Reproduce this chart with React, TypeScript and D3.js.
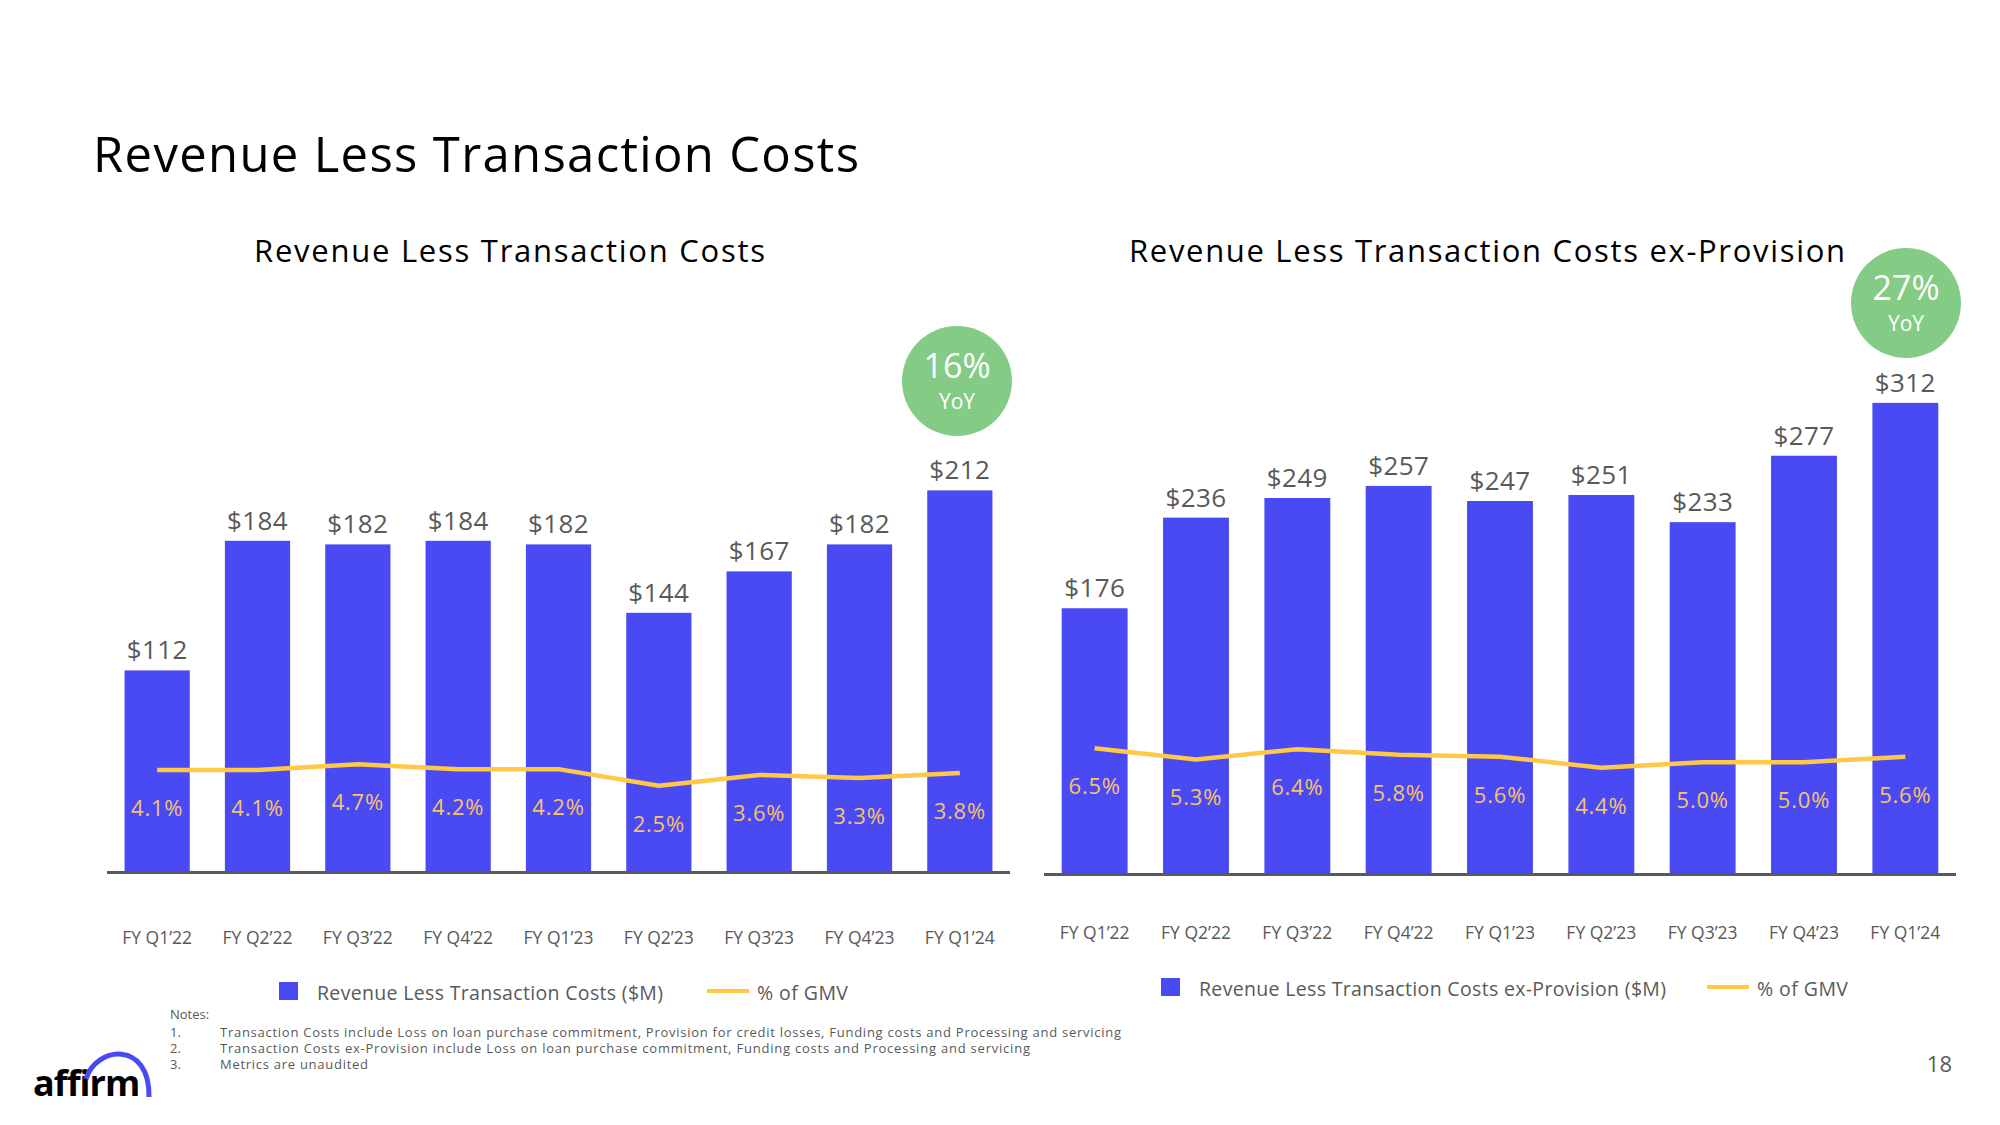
import React from "react";
import * as d3 from "d3";

const quarters = ["FY Q1’22", "FY Q2’22", "FY Q3’22", "FY Q4’22", "FY Q1’23", "FY Q2’23", "FY Q3’23", "FY Q4’23", "FY Q1’24"];
const rltcValues = [112, 184, 182, 184, 182, 144, 167, 182, 212];
const rltcPct = [4.1, 4.1, 4.7, 4.2, 4.2, 2.5, 3.6, 3.3, 3.8];
const exProvValues = [176, 236, 249, 257, 247, 251, 233, 277, 312];
const exProvPct = [6.5, 5.3, 6.4, 5.8, 5.6, 4.4, 5.0, 5.0, 5.6];
const notes = [
  "Transaction Costs include Loss on loan purchase commitment, Provision for credit losses, Funding costs and Processing and servicing",
  "Transaction Costs ex-Provision include Loss on loan purchase commitment, Funding costs and Processing and servicing",
  "Metrics are unaudited",
];
const noteWidths = [901, 810, 148];

const FONT = "'Open Sans', 'Noto Sans', sans-serif";
const BLUE = "#4A4AF4";
const GOLD = "#FFC845";
const PCT_TXT = "#F6C36A";
const GREEN = "#84CC86";
const GRAY = "#595959";

type PanelProps = {
  title: string;
  titleX: number;
  titleW: number;
  values: number[];
  pct: number[];
  xRange: [number, number];
  base: number;
  yMax: number;
  yTop: number;
  pZero: number;
  pTen: number;
  labelY: number;
  yoy: string;
  circle: [number, number];
  legendLabel: string;
  legendW: number;
  legendX: number;
  legendY: number;
  lineLegendX: number;
};

function Panel(p: PanelProps) {
  const x = d3.scaleBand<string>().domain(quarters).range(p.xRange).paddingInner(0.35).paddingOuter(0.175);
  const y = d3.scaleLinear().domain([0, p.yMax]).range([p.base, p.yTop]);
  const yp = d3.scaleLinear().domain([0, 10]).range([p.pZero, p.pTen]);
  const cx = (q: string) => (x(q) as number) + x.bandwidth() / 2;
  const line = d3
    .line<number>()
    .x((_, i) => cx(quarters[i]))
    .y((d) => yp(d));
  return (
    <g>
      <text x={p.titleX - p.titleW / 2} y={262} fontSize={31} fill="#000" fontFamily={FONT} textLength={p.titleW}>
        {p.title}
      </text>
      {p.values.map((v, i) => (
        <g key={i}>
          <rect x={x(quarters[i])} y={y(v)} width={x.bandwidth()} height={p.base - y(v)} fill={BLUE} />
          <text x={cx(quarters[i])} y={y(v) - 11} textAnchor="middle" fontSize={26} fill={GRAY} fontFamily={FONT} letterSpacing={0.4}>
            {"$" + v}
          </text>
          <text x={cx(quarters[i])} y={p.labelY} textAnchor="middle" fontSize={17.5} fill={GRAY} fontFamily={FONT}>
            {quarters[i]}
          </text>
        </g>
      ))}
      <line x1={p.xRange[0]} x2={p.xRange[1]} y1={p.base + 0.5} y2={p.base + 0.5} stroke={GRAY} strokeWidth={3} />
      <path d={line(p.pct) || ""} fill="none" stroke={GOLD} strokeWidth={4.5} strokeLinejoin="round" />
      {p.pct.map((v, i) => (
        <text key={i} x={cx(quarters[i])} y={yp(v) + 46} textAnchor="middle" fontSize={22} fill={PCT_TXT} fontFamily={FONT} letterSpacing={0.8}>
          {v.toFixed(1) + "%"}
        </text>
      ))}
      <circle cx={p.circle[0]} cy={p.circle[1]} r={55} fill={GREEN} />
      <text x={p.circle[0]} y={p.circle[1] - 3} textAnchor="middle" fontSize={34} fill="#fff" fontFamily={FONT}>
        {p.yoy}
      </text>
      <text x={p.circle[0]} y={p.circle[1] + 28} textAnchor="middle" fontSize={21} fill="#fff" fontFamily={FONT}>
        YoY
      </text>
      <rect x={p.legendX} y={p.legendY - 18} width={19} height={18} fill={BLUE} />
      <text x={p.legendX + 38} y={p.legendY} fontSize={19.5} fill={GRAY} fontFamily={FONT} textLength={p.legendW}>
        {p.legendLabel}
      </text>
      <line x1={p.lineLegendX} x2={p.lineLegendX + 42} y1={p.legendY - 9} y2={p.legendY - 9} stroke={GOLD} strokeWidth={4} />
      <text x={p.lineLegendX + 50} y={p.legendY} fontSize={19.5} fill={GRAY} fontFamily={FONT} textLength={91}>
        % of GMV
      </text>
    </g>
  );
}

export default function App() {
  return (
    <svg
      width={2000}
      height={1125}
      viewBox="0 0 2000 1125"
      style={{ position: "absolute", left: 0, top: 0, display: "block", background: "#fff" }}
    >
      <rect width={2000} height={1125} fill="#fff" />
      <text x={93} y={172} fontSize={49} fill="#000" fontFamily={FONT} textLength={766}>
        Revenue Less Transaction Costs
      </text>
      <Panel
        title="Revenue Less Transaction Costs"
        titleX={509.5}
        titleW={511}
        values={rltcValues}
        pct={rltcPct}
        xRange={[107, 1010]}
        base={872}
        yMax={250}
        yTop={422}
        pZero={810}
        pTen={712.7}
        labelY={944}
        yoy="16%"
        circle={[957, 381]}
        legendLabel="Revenue Less Transaction Costs ($M)"
        legendW={346}
        legendX={279}
        legendY={1000}
        lineLegendX={707}
      />
      <Panel
        title="Revenue Less Transaction Costs ex-Provision"
        titleX={1487}
        titleW={716}
        values={exProvValues}
        pct={exProvPct}
        xRange={[1044, 1956]}
        base={874}
        yMax={320}
        yTop={390.8}
        pZero={808.4}
        pTen={716}
        labelY={939}
        yoy="27%"
        circle={[1906, 303]}
        legendLabel="Revenue Less Transaction Costs ex-Provision ($M)"
        legendW={467}
        legendX={1161}
        legendY={996}
        lineLegendX={1707}
      />
      <text x={170} y={1019} fontSize={13} fill={GRAY} fontFamily={FONT}>
        Notes:
      </text>
      {notes.map((n, i) => (
        <g key={i}>
          <text x={170} y={1036.5 + i * 16} fontSize={13} fill={GRAY} fontFamily={FONT}>
            {i + 1 + "."}
          </text>
          <text x={220} y={1036.5 + i * 16} fontSize={13} fill={GRAY} fontFamily={FONT} textLength={noteWidths[i]}>
            {n}
          </text>
        </g>
      ))}
      <text x={33} y={1096} fontSize={36} fontWeight={700} fill="#000" fontFamily={FONT} letterSpacing={-1}>
        affirm
      </text>
      <path d="M 86 1079 C 96 1046, 150 1040, 149 1097" fill="none" stroke={BLUE} strokeWidth={5} />
      <text x={1952} y={1072} textAnchor="end" fontSize={22} fill={GRAY} fontFamily={FONT}>
        18
      </text>
    </svg>
  );
}
